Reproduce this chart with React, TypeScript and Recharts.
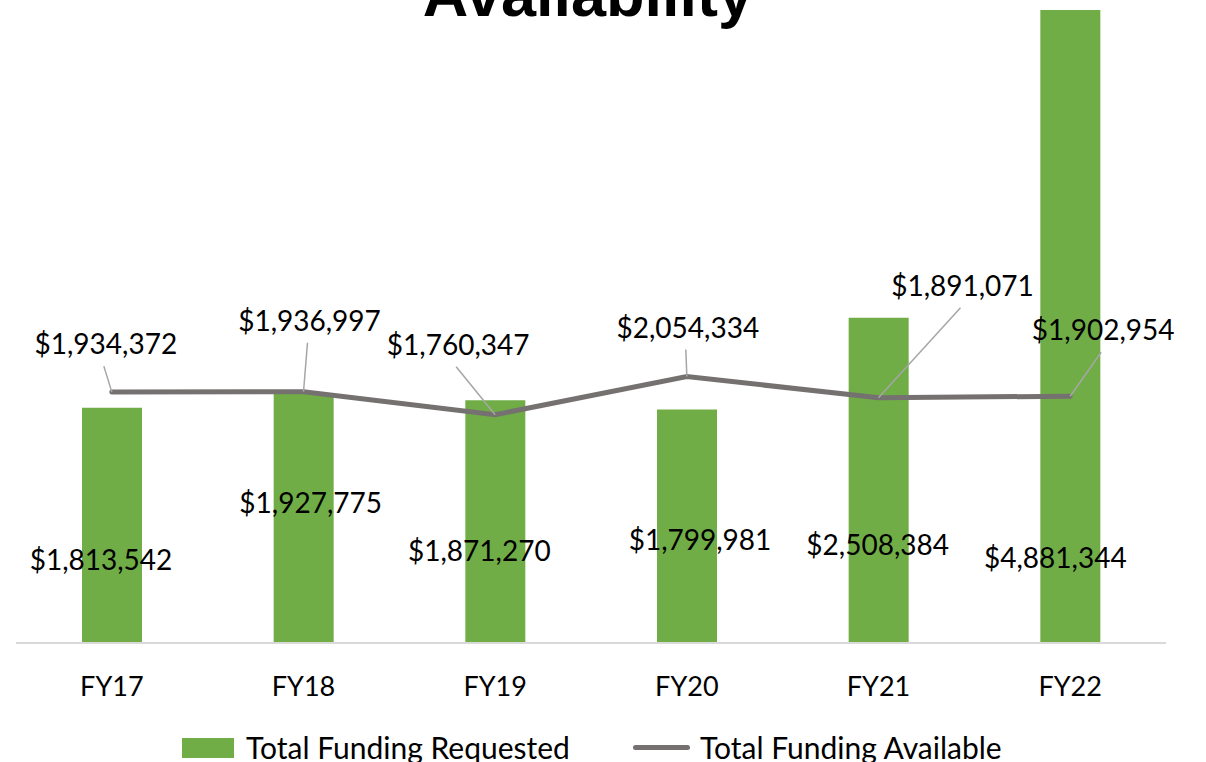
import { ComposedChart, Bar, Line, XAxis, YAxis, LabelList } from "recharts";

const years = ["FY17", "FY18", "FY19", "FY20", "FY21", "FY22"];
const requested = [1813542, 1927775, 1871270, 1799981, 2508384, 4881344];
const available = [1934372, 1936997, 1760347, 2054334, 1891071, 1902954];

// hand-placed label offsets, like the original sheet
const barLabelOffsets = [[-11, -84], [7, -141], [-16, -93], [13, -104], [-1, -99], [-15, -86]];
const lineLabelOffsets = [[-6, -49], [6, -72], [-37, -71], [1, -50], [84, -113], [33, -67]];

const GREEN = "#70AD47";
const GREY = "#767171";
const FONT = "Lato, 'Open Sans', sans-serif";

const data = years.map((name, i) => ({ name, requested: requested[i], available: available[i] }));

const money = (v: number) => "$" + v.toLocaleString("en-US");

function BarLabel(props: any) {
  const { x, y, width, height, index, value } = props;
  const [dx, dy] = barLabelOffsets[index];
  return (
    <text x={x + width / 2 + dx} y={y + height + dy} textAnchor="middle" dominantBaseline="central" fontSize={28} fontFamily={FONT} fill="#000">
      {money(value)}
    </text>
  );
}

function LineLabel(props: any) {
  const { x, y, index, value } = props;
  const [dx, dy] = lineLabelOffsets[index];
  const lx = x + dx;
  const ly = y + dy;
  return (
    <g>
      <line x1={lx - 2} y1={ly + 23} x2={x} y2={y} stroke="#A6A6A6" strokeWidth={1.5} />
      <text x={lx} y={ly} textAnchor="middle" dominantBaseline="central" fontSize={28} fontFamily={FONT} fill="#000">
        {money(value)}
      </text>
    </g>
  );
}

function Tick(props: any) {
  const { x, y, payload } = props;
  return (
    <text x={x} y={y + 42} textAnchor="middle" dominantBaseline="central" fontSize={27} fontFamily={FONT} fill="#000">
      {payload.value}
    </text>
  );
}

export default function App() {
  return (
    <div style={{ position: "absolute", top: 0, left: 0, width: 1206, height: 762, overflow: "hidden", background: "#fff" }}>
      <div style={{ position: "absolute", left: 0, right: 0, top: 15, height: 0 }}>
        <div style={{ position: "absolute", left: 0, right: 0, bottom: 0, textAlign: "center", fontFamily: "'Liberation Sans', Arial, sans-serif", fontWeight: 700, fontSize: 63, lineHeight: "63px", transform: "translateY(11px)", paddingRight: 30 }}>
          Availability
        </div>
      </div>
      <ComposedChart width={1206} height={762} data={data} margin={{ top: 7.5, right: 40, left: 16, bottom: 69 }}>
        <XAxis dataKey="name" height={50} tickLine={false} tickSize={0} tickMargin={0} axisLine={{ stroke: "#D9D9D9", strokeWidth: 2 }} tick={<Tick />} interval={0} />
        <YAxis hide domain={[0, 4900000]} />
        <Bar dataKey="requested" fill={GREEN} barSize={60} isAnimationActive={false}>
          <LabelList dataKey="requested" content={<BarLabel />} />
        </Bar>
        <Line dataKey="available" stroke={GREY} strokeWidth={5} dot={false} type="linear" strokeLinecap="round" isAnimationActive={false}>
          <LabelList dataKey="available" content={<LineLabel />} />
        </Line>
      </ComposedChart>
      <div style={{ position: "absolute", left: 182, top: 738, width: 52, height: 20, background: GREEN }} />
      <div style={{ position: "absolute", left: 246, top: 747, transform: "translateY(-50%)", fontFamily: FONT, fontSize: 30, whiteSpace: "nowrap" }}>Total Funding Requested</div>
      <div style={{ position: "absolute", left: 633, top: 745, width: 57, height: 5, borderRadius: 3, background: GREY }} />
      <div style={{ position: "absolute", left: 700, top: 747, transform: "translateY(-50%)", fontFamily: FONT, fontSize: 30, whiteSpace: "nowrap" }}>Total Funding Available</div>
    </div>
  );
}
